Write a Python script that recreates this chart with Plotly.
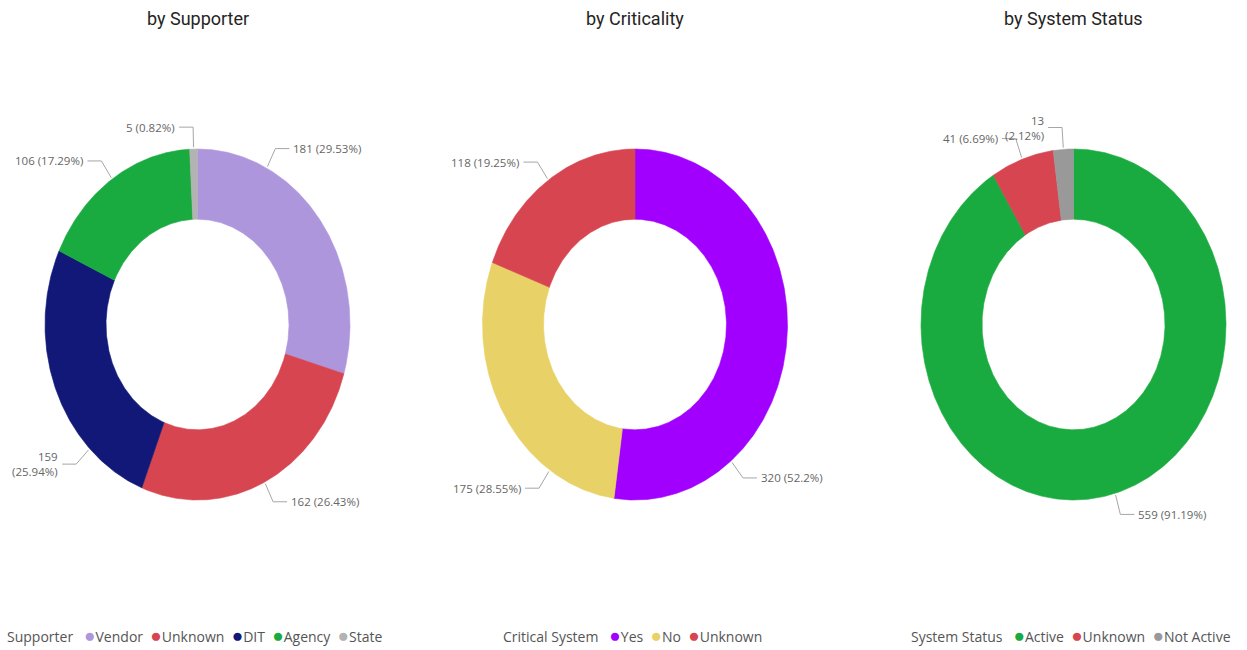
import math
import plotly.graph_objects as go

# ---------------- data ----------------
supporter_labels = ["Vendor", "Unknown", "DIT", "Agency", "State"]
supporter_values = [181, 162, 159, 106, 5]

criticality_labels = ["Yes", "No", "Unknown"]
criticality_values = [320, 175, 118]

status_labels = ["Active", "Unknown", "Not Active"]
status_values = [559, 41, 13]

chart_titles = ["by Supporter", "by Criticality", "by System Status"]
legend_titles = ["Supporter", "Critical System", "System Status"]

# ---------------- styles ----------------
supporter_colors = ["#AE96DD", "#D64550", "#111877", "#1AAB40", "#B3B3B3"]
criticality_colors = ["#A100FF", "#E8D166", "#D64550"]
status_colors = ["#1AAB40", "#D64550", "#999999"]

# ---------------- layout ----------------
W, H = 1247, 650
CENTERS_X = [197.5, 635.0, 1073.5]
CY = 324.5
RX, RY = 152.5, 175.5
HOLE = 0.6
ELBOW_R = 1.125
LEADER_LEN = 14
TEXT_GAP = 3
LEGEND_CENTERS_X = [194.5, 632.5, 1071.0]
LEGEND_Y = 635
TITLE_Y = 18
# label anchor angles (deg clockwise from 12 o'clock); default = slice midpoint
label_angle_override = [{"Vendor": 27, "DIT": 225}, {"Yes": 141, "No": 214}, {}]
label_wrap = [{"DIT"}, set(), {"Not Active"}]

LABEL_FONT = dict(family="Segoe UI, Open Sans, sans-serif", size=11.5, color="#666666")
TITLE_FONT = dict(family="Roboto, sans-serif", size=18, color="#252423")
LEGEND_FONT = dict(family="Segoe UI, Open Sans, sans-serif", size=14, color="#555555")
LEADER_COLOR = "#A6A6A6"

charts = [
    (supporter_labels, supporter_values, supporter_colors),
    (criticality_labels, criticality_values, criticality_colors),
    (status_labels, status_values, status_colors),
]


def pt(cx, r, ang):
    a = math.radians(ang)
    return cx + r * RX * math.sin(a), CY - r * RY * math.cos(a)


def fmt_pct(p):
    return f"{p:.2f}".rstrip("0").rstrip(".")


fig = go.Figure()
annotations = []

for ci, (labels, values, colors) in enumerate(charts):
    cx = CENTERS_X[ci]
    total = sum(values)
    start = 0.0
    for lab, val, col in zip(labels, values, colors):
        sweep = val / total * 360.0
        a0, a1 = start, start + sweep
        n = max(2, int(sweep / 0.5) + 1)
        angs = [a0 + (a1 - a0) * k / (n - 1) for k in range(n)]
        outer = [pt(cx, 1.0, a) for a in angs]
        inner = [pt(cx, HOLE, a) for a in reversed(angs)]
        poly = outer + inner + [outer[0]]
        fig.add_trace(go.Scatter(
            x=[p[0] for p in poly], y=[p[1] for p in poly],
            mode="lines", fill="toself", fillcolor=col,
            line=dict(color=col, width=0.6),
            hoveron="fills", name=lab,
            text=f"{lab}: {val}", hoverinfo="text",
            showlegend=False,
        ))

        # data label with leader line
        la = label_angle_override[ci].get(lab, (a0 + a1) / 2)
        sx, sy = pt(cx, 1.01, la)
        ex, ey = pt(cx, ELBOW_R, la)
        right = math.sin(math.radians(la)) >= 0
        hx = ex + LEADER_LEN if right else ex - LEADER_LEN
        fig.add_trace(go.Scatter(
            x=[sx, ex, hx], y=[sy, ey, ey], mode="lines",
            line=dict(color=LEADER_COLOR, width=1),
            hoverinfo="skip", showlegend=False,
        ))
        pct = fmt_pct(val / total * 100)
        sep = "<br>" if lab in label_wrap[ci] else " "
        annotations.append(dict(
            x=hx + TEXT_GAP if right else hx - TEXT_GAP, y=ey,
            xref="x", yref="y", showarrow=False,
            text=f"{val}{sep}({pct}%)",
            xanchor="left" if right else "right", yanchor="middle",
            align="left" if right else "right",
            font=LABEL_FONT, borderpad=0,
        ))
        start = a1

    # title
    annotations.append(dict(
        x=cx, y=TITLE_Y, xref="x", yref="y", showarrow=False,
        text=chart_titles[ci], xanchor="center", yanchor="middle",
        font=TITLE_FONT,
    ))

    # legend (text line built from categories and colours)
    parts = [legend_titles[ci] + "&nbsp;&nbsp;&nbsp;"]
    items = []
    for lab, col in zip(labels, colors):
        items.append(f"<span style='color:{col};font-size:19px'>●</span>{lab}")
    parts.append("&nbsp;&nbsp;".join(items))
    annotations.append(dict(
        x=LEGEND_CENTERS_X[ci], y=LEGEND_Y, xref="x", yref="y", showarrow=False,
        text="".join(parts), xanchor="center", yanchor="middle",
        font=LEGEND_FONT,
    ))

fig.update_layout(
    width=W, height=H,
    margin=dict(l=0, r=0, t=0, b=0),
    paper_bgcolor="white", plot_bgcolor="white",
    xaxis=dict(range=[0, W], visible=False, fixedrange=True),
    yaxis=dict(range=[H, 0], visible=False, fixedrange=True),
    annotations=annotations,
    showlegend=False,
)

fig.write_html(
    "out.html",
    config={"displayModeBar": False},
    post_script="document.body.style.margin='0';document.body.style.overflow='hidden';",
)
